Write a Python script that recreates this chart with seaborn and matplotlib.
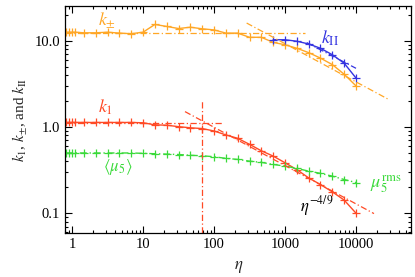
import numpy as np
import pandas as pd
import matplotlib
matplotlib.use("Agg")
import matplotlib.pyplot as plt
from matplotlib.ticker import FixedLocator, FixedFormatter, LogLocator, NullFormatter
import seaborn as sns

# conformal time samples (log-spaced, 6 per decade after the first few)
eta = [0.82, 0.9, 1.0, 1.1, 1.47, 2.15, 3.16, 4.64, 6.81, 10.0, 14.7, 21.5,
       31.6, 46.4, 68.1, 100, 147, 215, 316, 464, 681, 1000, 1470, 2150,
       3160, 4640, 6810, 10000]

k_pm = [12.6, 12.6, 12.6, 12.6, 12.4, 12.4, 12.6, 12.3, 12.1, 12.6, 15.5, 14.7,
        13.9, 14.4, 13.8, 13.4, 12.3, 12.3, 11.0, 11.0, 9.6, 9.0, 8.2, 7.3,
        6.3, 5.3, 4.1, 3.0]

k_1 = [1.13, 1.13, 1.13, 1.13, 1.13, 1.13, 1.13, 1.13, 1.13, 1.12, 1.06, 1.05,
       1.01, 0.98, 0.96, 0.90, 0.81, 0.74, 0.63, 0.53, 0.46, 0.385, 0.32, 0.257,
       0.215, 0.177, 0.142, 0.10]

mu5 = [0.50, 0.50, 0.50, 0.50, 0.50, 0.50, 0.50, 0.50, 0.50, 0.495, 0.49, 0.485,
       0.48, 0.47, 0.464, 0.452, 0.433, 0.421, 0.402, 0.389, 0.368, 0.352, 0.331,
       0.308, 0.29, 0.269, 0.246, 0.227]

eta_II = [681, 1000, 1470, 2150, 3160, 4640, 6810, 10000]
k_II = [10.3, 10.3, 9.9, 9.2, 8.2, 6.9, 5.5, 3.7]

# reference lines (dash-dotted)
pm_flat_eta, pm_flat_k = [0.8, 1900], [12.2, 12.2]
pm_fit_eta, pm_fit_k = [288, 28500], [16.1, 2.1]
II_fit_eta, II_fit_k = [2020, 10000], [9.55, 4.8]
k1_flat_eta, k1_flat_k = [0.8, 130], [1.12, 1.12]
k1_fit_eta, k1_fit_k = [39, 17900], [1.51, 0.099]
eta_star, eta_star_top = 68, 2.06

orange = "#ffa726"
red = "#ff4a26"
blue = "#3434e0"
green = "#3ada3a"

sns.set_style("ticks")
plt.rcParams["font.family"] = ["Liberation Serif", "DejaVu Serif"]
plt.rcParams["mathtext.fontset"] = "stix"

fig = plt.figure(figsize=(4.15, 2.77), dpi=100)
ax = fig.add_axes([0.157, 0.159, 0.834, 0.820])

df = pd.DataFrame({"eta": eta, "k_pm": k_pm, "k_1": k_1, "mu5": mu5})
df_II = pd.DataFrame({"eta": eta_II, "k_II": k_II})

dashdot = (5, 2, 1, 2)


def series(y, color, data, ls="-"):
    line_kw = dict(marker="+", markersize=6, markeredgewidth=0.9, linewidth=1.0,
                   markeredgecolor=color, markerfacecolor=color)
    if ls == "-.":
        line_kw["dashes"] = dashdot
    sns.lineplot(data=data, x="eta", y=y, color=color, ax=ax, **line_kw)


series("k_pm", orange, df)
series("k_1", red, df)
series("mu5", green, df, ls="-.")
series("k_II", blue, df_II)

dd = dict(linestyle=(0, dashdot), linewidth=0.9)
ax.plot(pm_flat_eta, pm_flat_k, color=orange, **dd)
ax.plot(pm_fit_eta, pm_fit_k, color=orange, **dd)
ax.plot(II_fit_eta, II_fit_k, color=blue, **dd)
ax.plot(k1_flat_eta, k1_flat_k, color=red, **dd)
ax.plot(k1_fit_eta, k1_fit_k, color=red, **dd)
ax.vlines(eta_star, 0.059, eta_star_top, color=red, **dd)

ax.set_xscale("log")
ax.set_yscale("log")
ax.set_xlim(0.8, 6e4)
ax.set_ylim(0.059, 25.5)

ax.xaxis.set_major_locator(FixedLocator([1, 10, 100, 1000, 10000]))
ax.xaxis.set_major_formatter(FixedFormatter(["1", "10", "100", "1000", "10000"]))
ax.xaxis.set_minor_locator(LogLocator(base=10, subs=np.arange(2, 10)))
ax.xaxis.set_minor_formatter(NullFormatter())
ax.yaxis.set_major_locator(FixedLocator([0.1, 1, 10]))
ax.yaxis.set_major_formatter(FixedFormatter(["0.1", "1.0", "10.0"]))
ax.yaxis.set_minor_locator(LogLocator(base=10, subs=np.arange(2, 10)))
ax.yaxis.set_minor_formatter(NullFormatter())

ax.tick_params(which="both", direction="in", top=True, right=True,
               labelsize=10.5, width=0.8, colors="black")
ax.tick_params(which="major", length=5)
ax.tick_params(which="minor", length=2.5)
for s in ax.spines.values():
    s.set_linewidth(0.9)
    s.set_color("black")

ax.set_xlabel(r"$\eta$", fontsize=12, labelpad=6)
ax.set_ylabel(r"$k_1$, $k_{\pm}$, and $k_{\rm II}$", fontsize=11, labelpad=4)

ax.text(3.1, 17.5, r"$k_{\pm}$", color=orange, fontsize=13, ha="center", va="center")
ax.text(4300, 10.6, r"$k_{\rm II}$", color=blue, fontsize=13, ha="center", va="center")
ax.text(3.0, 1.7, r"$k_1$", color=red, fontsize=13, ha="center", va="center")
ax.text(4.4, 0.345, r"$\langle\mu_5\rangle$", color=green, fontsize=12, ha="center", va="center")
ax.text(15500, 0.215, r"$\mu_5^{\rm rms}$", color=green, fontsize=13, ha="left", va="center")
ax.text(2800, 0.122, r"$\eta^{-4/9}$", color="black", fontsize=12, ha="center", va="center")

fig.savefig("out.png", dpi=100)
plt.close(fig)
